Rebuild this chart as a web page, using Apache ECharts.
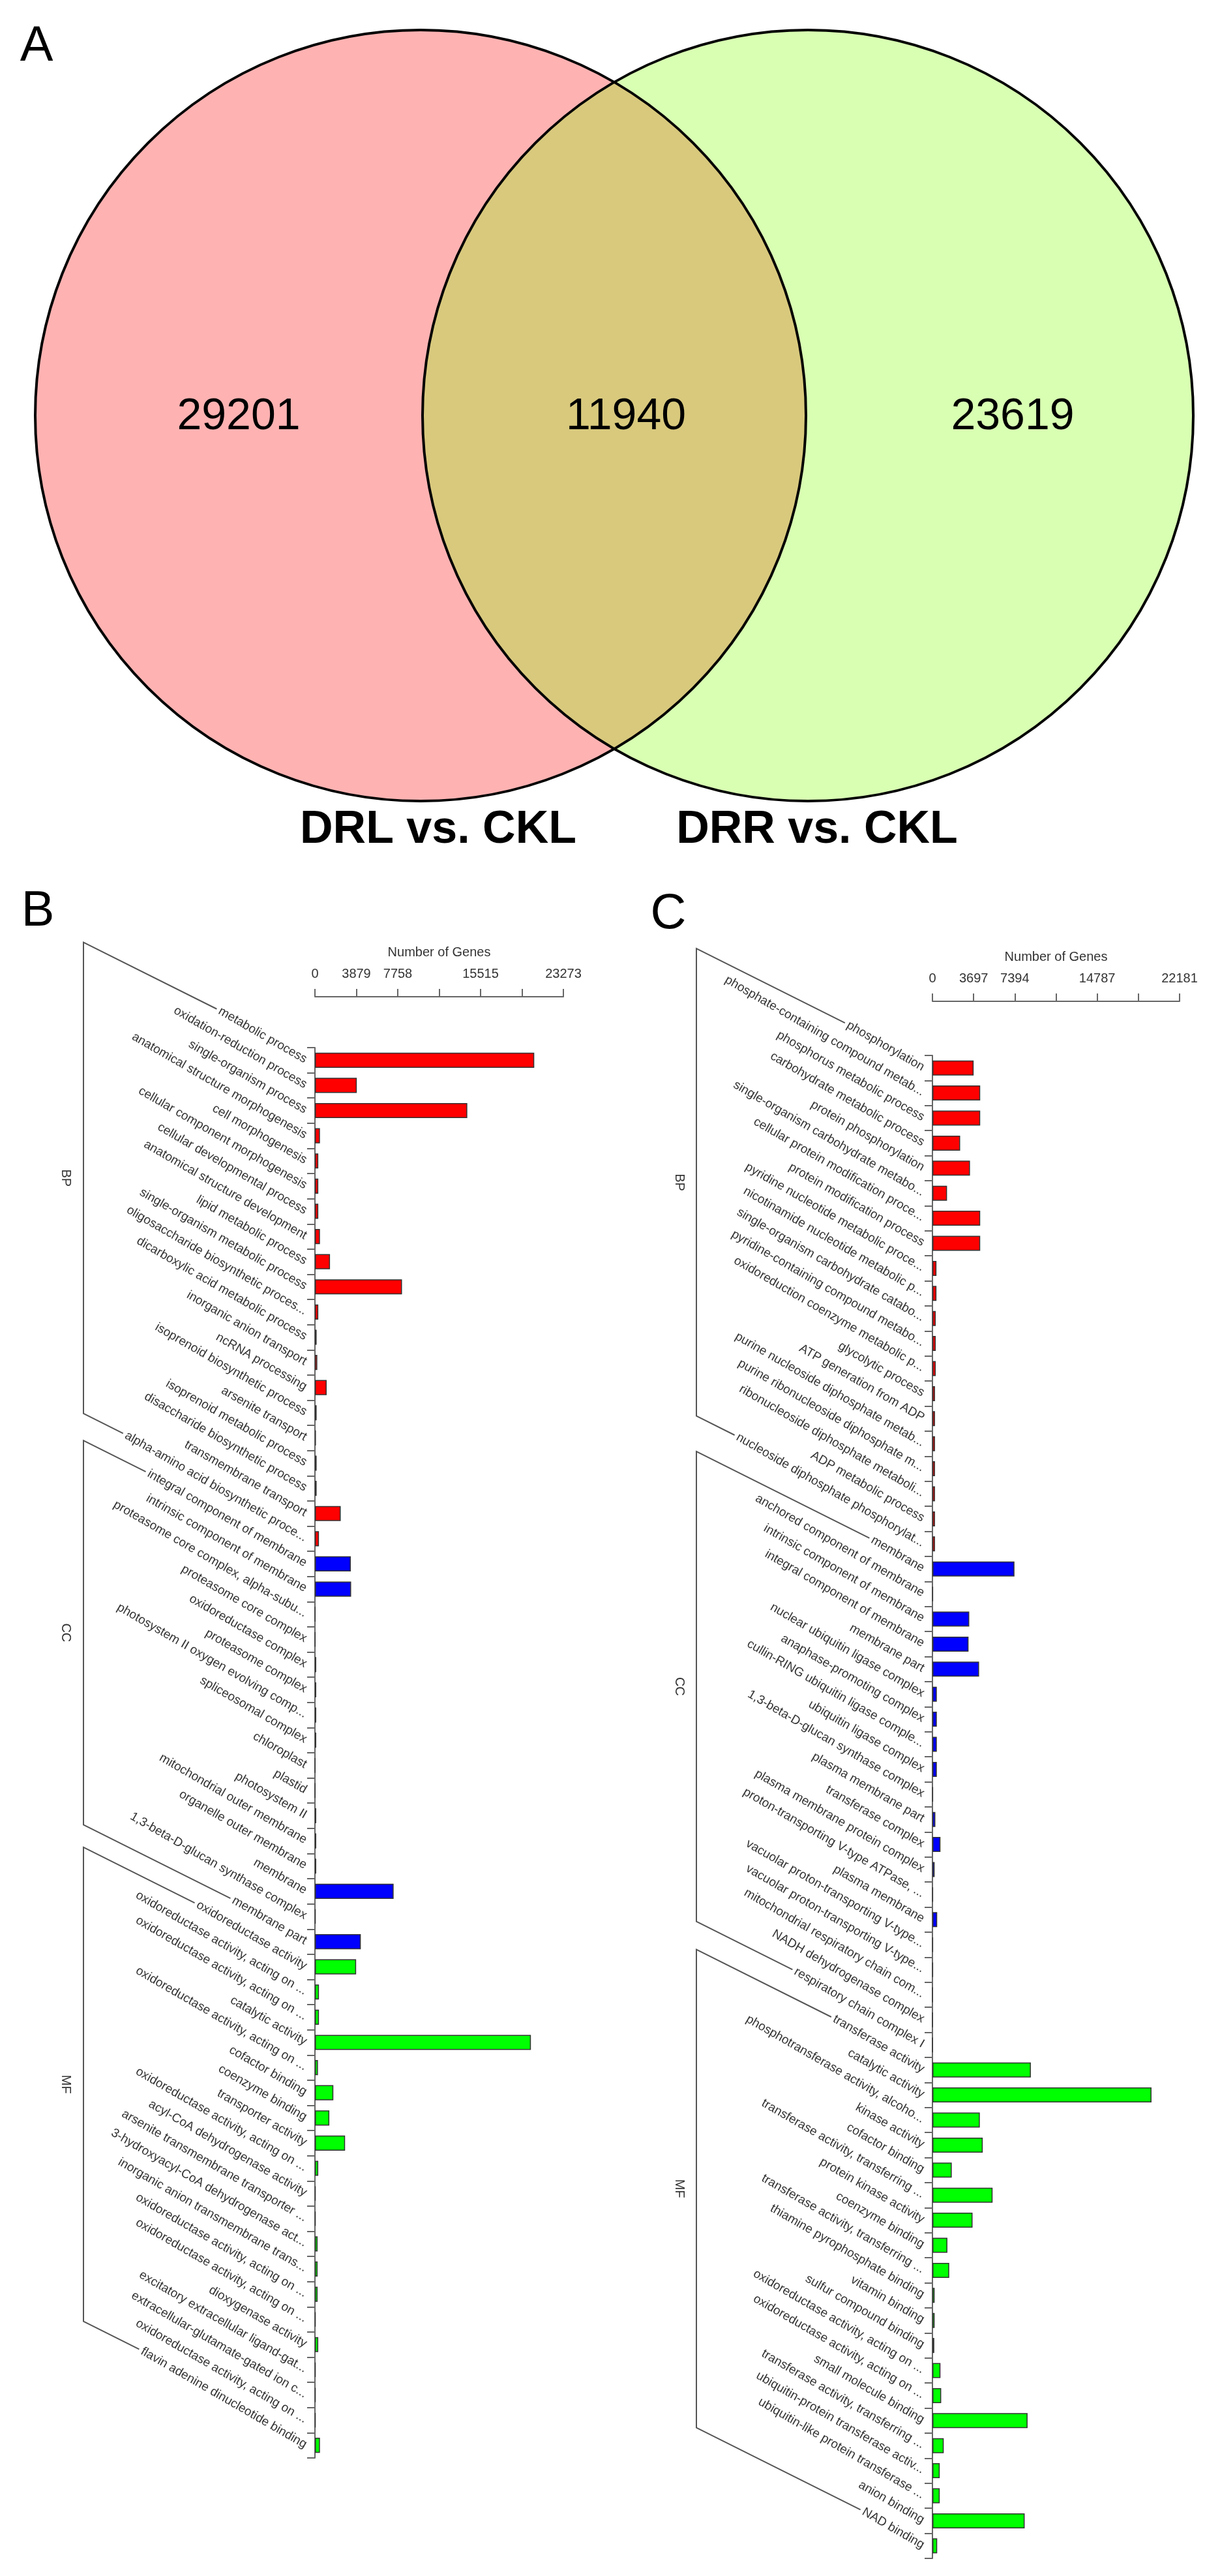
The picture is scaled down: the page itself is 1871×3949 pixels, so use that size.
<!DOCTYPE html>
<html>
<head>
<meta charset="utf-8">
<title>Venn and GO bar charts</title>
<script src="https://cdn.jsdelivr.net/npm/echarts/dist/echarts.min.js"></script>
<style>
html,body{margin:0;padding:0;background:#ffffff;}
#chart{width:1871px;height:3949px;}
</style>
</head>
<body>
<div id="chart"></div>
<script>
// ---------------- DATA ----------------
const vennSets = ['DRL vs. CKL', 'DRR vs. CKL'];
const vennCounts = [29201, 11940, 23619]; // left only, shared, right only

const groupNames = ['BP', 'CC', 'MF'];

const groupSizesB = [20, 16, 20];
const categoriesB = [
  'metabolic process', 'oxidation-reduction process', 'single-organism process',
  'anatomical structure morphogenesis', 'cell morphogenesis', 'cellular component morphogenesis',
  'cellular developmental process', 'anatomical structure development', 'lipid metabolic process',
  'single-organism metabolic process', 'oligosaccharide biosynthetic proces...',
  'dicarboxylic acid metabolic process', 'inorganic anion transport', 'ncRNA processing',
  'isoprenoid biosynthetic process', 'arsenite transport', 'isoprenoid metabolic process',
  'disaccharide biosynthetic process', 'transmembrane transport', 'alpha-amino acid biosynthetic proce...',
  'integral component of membrane', 'intrinsic component of membrane',
  'proteasome core complex, alpha-subu...', 'proteasome core complex', 'oxidoreductase complex',
  'proteasome complex', 'photosystem II oxygen evolving comp...', 'spliceosomal complex',
  'chloroplast', 'plastid', 'photosystem II', 'mitochondrial outer membrane',
  'organelle outer membrane', 'membrane', '1,3-beta-D-glucan synthase complex', 'membrane part',
  'oxidoreductase activity', 'oxidoreductase activity, acting on ...', 'oxidoreductase activity, acting on ...',
  'catalytic activity', 'oxidoreductase activity, acting on ...', 'cofactor binding', 'coenzyme binding',
  'transporter activity', 'oxidoreductase activity, acting on ...', 'acyl-CoA dehydrogenase activity',
  'arsenite transmembrane transporter ...', '3-hydroxyacyl-CoA dehydrogenase act...',
  'inorganic anion transmembrane trans...', 'oxidoreductase activity, acting on ...',
  'oxidoreductase activity, acting on ...', 'dioxygenase activity',
  'excitatory extracellular ligand-gat...', 'extracellular-glutamate-gated ion c...',
  'oxidoreductase activity, acting on ...', 'flavin adenine dinucleotide binding'
];
const valuesB = [
  20544, 3921, 14271, 470, 314, 314, 314, 470, 1411, 8155, 314, 157, 220, 1098, 157, 94, 157, 157, 2415, 376,
  3360, 3390, 30, 30, 120, 120, 120, 120, 20, 20, 120, 120, 120, 7371, 60, 4297,
  3858, 376, 376, 20231, 282, 1725, 1349, 2823, 310, 60, 60, 250, 250, 250, 60, 310, 60, 60, 60, 470
];
const axisMaxB = 23273;
const tickLabelsB = ['0', '3879', '7758', '', '15515', '', '23273'];

const groupSizesC = [20, 20, 20];
const categoriesC = [
  'phosphorylation', 'phosphate-containing compound metab...', 'phosphorus metabolic process',
  'carbohydrate metabolic process', 'protein phosphorylation', 'single-organism carbohydrate metabo...',
  'cellular protein modification proce...', 'protein modification process',
  'pyridine nucleotide metabolic proce...', 'nicotinamide nucleotide metabolic p...',
  'single-organism carbohydrate catabo...', 'pyridine-containing compound metabo...',
  'oxidoreduction coenzyme metabolic p...', 'glycolytic process', 'ATP generation from ADP',
  'purine nucleoside diphosphate metab...', 'purine ribonucleoside diphosphate m...',
  'ribonucleoside diphosphate metaboli...', 'ADP metabolic process', 'nucleoside diphosphate phosphorylat...',
  'membrane', 'anchored component of membrane', 'intrinsic component of membrane',
  'integral component of membrane', 'membrane part', 'nuclear ubiquitin ligase complex',
  'anaphase-promoting complex', 'cullin-RING ubiquitin ligase comple...', 'ubiquitin ligase complex',
  '1,3-beta-D-glucan synthase complex', 'plasma membrane part', 'transferase complex',
  'plasma membrane protein complex', 'proton-transporting V-type ATPase, ...', 'plasma membrane',
  'vacuolar proton-transporting V-type...', 'vacuolar proton-transporting V-type...',
  'mitochondrial respiratory chain com...', 'NADH dehydrogenase complex', 'respiratory chain complex I',
  'transferase activity', 'catalytic activity', 'phosphotransferase activity, alcoho...', 'kinase activity',
  'cofactor binding', 'transferase activity, transferring ...', 'protein kinase activity', 'coenzyme binding',
  'transferase activity, transferring ...', 'thiamine pyrophosphate binding', 'vitamin binding',
  'sulfur compound binding', 'oxidoreductase activity, acting on ...', 'oxidoreductase activity, acting on ...',
  'small molecule binding', 'transferase activity, transferring ...', 'ubiquitin-protein transferase activ...',
  'ubiquitin-like protein transferase ...', 'anion binding', 'NAD binding'
];
const valuesC = [
  3697, 4286, 4286, 2486, 3370, 1309, 4286, 4286, 360, 360, 294, 294, 294, 229, 229, 229, 229, 229, 229, 229,
  7361, 40, 3304, 3239, 4188, 393, 393, 393, 393, 40, 262, 720, 196, 40, 425, 40, 40, 15, 15, 15,
  8833, 19662, 4253, 4515, 1734, 5398, 3599, 1341, 1505, 196, 196, 164, 720, 785, 8539, 1014, 654, 654, 8277, 425
];
const axisMaxC = 22181;
const tickLabelsC = ['0', '3697', '7394', '', '14787', '', '22181'];

// ---------------- LAYOUT / STYLE ----------------
const FONT = 'Liberation Sans';
const LABEL_SIZE = 19;
const LABEL_ROT = 30;          // degrees, clockwise
const BRACKET_SLOPE = 0.5;     // dy/dx of bracket diagonals
const groupColors = ['#FF0000', '#0000FF', '#00FF00'];
const vennColors = {left: '#FFB2B2', right: '#D8FFB2', both: '#D8C97D'};

const L = {
  venn: {w: 1871, h: 1320, c1: [645, 637], c2: [1239, 637], r: 591,
         numX: [366, 960, 1553], numY: 639, setX: [672, 1253], setY: 1273},
  B: {left: 483, top: 1606, width: 381, height: 2162, axisOffset: 78, bracketDX: 355, groupLabelDX: 27, labelMargin: 14},
  C: {left: 1430, top: 1618, width: 379, height: 2304, axisOffset: 83, bracketDX: 362, groupLabelDX: 26, labelMargin: 14},
  letters: [{t: 'A', x: 56, y: 72}, {t: 'B', x: 58, y: 1398}, {t: 'C', x: 1025, y: 1402}]
};

// ---------------- HELPERS ----------------
const mctx = document.createElement('canvas').getContext('2d');
function textWidth(t, font) { mctx.font = font; return mctx.measureText(t).width; }
function groupBounds(sizes) { const out = []; let s = 0; sizes.forEach(n => { out.push([s, s + n - 1]); s += n; }); return out; }
function groupOf(sizes, i) { let s = 0; for (let g = 0; g < sizes.length; g++) { s += sizes[g]; if (i < s) return g; } return sizes.length - 1; }

function barData(values, sizes) {
  return values.map((v, i) => ({value: v, itemStyle: {color: groupColors[groupOf(sizes, i)]}}));
}

function makeBracket(cats, sizes, lay) {
  const bounds = groupBounds(sizes);
  const lf = LABEL_SIZE + 'px "' + FONT + '"';
  return function (params, api) {
    const g = params.dataIndex;
    const s = bounds[g][0], e = bounds[g][1];
    const p0 = api.coord([0, s]), p1 = api.coord([0, e]);
    const axisX = p0[0];
    const bx = axisX - lay.bracketDX;
    const th = LABEL_ROT * Math.PI / 180;
    const startOf = (p, t) => {
      const w = textWidth(t, lf);
      return [axisX - lay.labelMargin - w * Math.cos(th), p[1] - w * Math.sin(th)];
    };
    const gap = 4;
    const a0 = startOf(p0, cats[s]), a1 = startOf(p1, cats[e]);
    const e0 = [a0[0] - gap, a0[1] - gap * BRACKET_SLOPE];
    const e1 = [a1[0] - gap, a1[1] - gap * BRACKET_SLOPE];
    const c0 = [bx, e0[1] - (e0[0] - bx) * BRACKET_SLOPE];
    const c1 = [bx, e1[1] - (e1[0] - bx) * BRACKET_SLOPE];
    return {
      type: 'group',
      children: [
        {type: 'polyline', shape: {points: [e0, c0, c1, e1]}, style: {stroke: '#555', lineWidth: 2, fill: null}},
        {type: 'text', x: bx - lay.groupLabelDX, y: (c0[1] + c1[1]) / 2, rotation: -Math.PI / 2,
         style: {text: groupNames[g], fontSize: 20, fontFamily: FONT, fill: '#333', align: 'center', verticalAlign: 'middle'}}
      ]
    };
  };
}

function vennRender(params, api) {
  const V = L.venn;
  const i = params.dataIndex;
  const p1 = api.coord(V.c1), p2 = api.coord(V.c2);
  const r = api.size([V.r, 0])[0];
  const txt = (x, y, t, size, weight, z2) => {
    const p = api.coord([x, y]);
    return {type: 'text', x: p[0], y: p[1], z2: z2,
      style: {text: t, fontSize: size, fontWeight: weight, fontFamily: FONT, fill: '#000', align: 'center', verticalAlign: 'middle'}};
  };
  const children = [];
  if (i === 0 || i === 2) {
    const c = i === 0 ? p1 : p2;
    const col = i === 0 ? vennColors.left : vennColors.right;
    children.push({type: 'circle', z2: 1, shape: {cx: c[0], cy: c[1], r: r}, style: {fill: col}});
    children.push({type: 'circle', z2: 3, shape: {cx: c[0], cy: c[1], r: r}, style: {fill: null, stroke: '#000', lineWidth: 4}});
    const si = i === 0 ? 0 : 1;
    children.push(txt(V.setX[si], V.setY, vennSets[si], 70, 'bold', 4));
  } else {
    const d = p2[0] - p1[0];
    const h = Math.sqrt(r * r - (d / 2) * (d / 2));
    const mx = (p1[0] + p2[0]) / 2, cy = p1[1];
    const pd = 'M' + mx + ' ' + (cy - h) + ' A' + r + ' ' + r + ' 0 0 1 ' + mx + ' ' + (cy + h) +
               ' A' + r + ' ' + r + ' 0 0 1 ' + mx + ' ' + (cy - h) + ' Z';
    children.push({type: 'path', z2: 2, shape: {pathData: pd}, style: {fill: vennColors.both}});
  }
  children.push(txt(V.numX[i], V.numY, String(api.value(1)), 68, 'normal', 4));
  return {type: 'group', children: children};
}

function valueAxis(gridIndex, max, labels, lay) {
  const interval = max / 6;
  return {
    type: 'value', gridIndex: gridIndex, position: 'top', offset: lay.axisOffset,
    min: 0, max: max, interval: interval,
    name: 'Number of Genes', nameLocation: 'middle', nameGap: 58,
    nameTextStyle: {fontSize: 20, color: '#333', fontFamily: FONT},
    axisLine: {show: true, lineStyle: {color: '#666', width: 2}},
    axisTick: {show: true, length: 12, lineStyle: {color: '#666', width: 2}},
    axisLabel: {margin: 25, fontSize: 20, color: '#333', fontFamily: FONT, hideOverlap: false,
      formatter: v => { const k = Math.round(v / interval); return labels[k] != null ? labels[k] : ''; }},
    splitLine: {show: false}
  };
}
function catAxis(gridIndex, cats) {
  return {
    type: 'category', gridIndex: gridIndex, data: cats, inverse: true,
    axisLine: {show: true, lineStyle: {color: '#666', width: 2}},
    axisTick: {show: true, length: 12, lineStyle: {color: '#666', width: 2}},
    axisLabel: {interval: 0, rotate: -LABEL_ROT, margin: 14, fontSize: LABEL_SIZE, color: '#333',
      fontFamily: FONT, hideOverlap: false},
    splitLine: {show: false}
  };
}

// ---------------- CHART ----------------
const chart = echarts.init(document.getElementById('chart'), null, {renderer: 'canvas'});
const option = {
  animation: false,
  backgroundColor: '#ffffff',
  grid: [
    {left: 0, top: 0, width: L.venn.w, height: L.venn.h, outerBoundsMode: 'none'},
    {left: L.B.left, top: L.B.top, width: L.B.width, height: L.B.height, outerBoundsMode: 'none'},
    {left: L.C.left, top: L.C.top, width: L.C.width, height: L.C.height, outerBoundsMode: 'none'}
  ],
  xAxis: [
    {type: 'value', gridIndex: 0, min: 0, max: L.venn.w, show: false},
    valueAxis(1, axisMaxB, tickLabelsB, L.B),
    valueAxis(2, axisMaxC, tickLabelsC, L.C)
  ],
  yAxis: [
    {type: 'value', gridIndex: 0, min: 0, max: L.venn.h, inverse: true, show: false},
    catAxis(1, categoriesB),
    catAxis(2, categoriesC)
  ],
  graphic: L.letters.map(o => ({
    type: 'text', x: o.x, y: o.y,
    style: {text: o.t, fontSize: 76, fontFamily: FONT, fill: '#000', align: 'center', verticalAlign: 'middle'}
  })),
  series: [
    {type: 'custom', name: 'venn', xAxisIndex: 0, yAxisIndex: 0, silent: true, clip: false,
     data: vennCounts.map((v, i) => [i, v]), encode: {x: 0, y: 1}, renderItem: vennRender},
    {type: 'bar', name: 'B', xAxisIndex: 1, yAxisIndex: 1, barWidth: '60%',
     itemStyle: {borderColor: '#333', borderWidth: 1.5}, data: barData(valuesB, groupSizesB)},
    {type: 'custom', name: 'bracketB', xAxisIndex: 1, yAxisIndex: 1, silent: true, clip: false,
     data: groupNames.map((g, i) => [0, i]), renderItem: makeBracket(categoriesB, groupSizesB, L.B)},
    {type: 'bar', name: 'C', xAxisIndex: 2, yAxisIndex: 2, barWidth: '60%',
     itemStyle: {borderColor: '#333', borderWidth: 1.5}, data: barData(valuesC, groupSizesC)},
    {type: 'custom', name: 'bracketC', xAxisIndex: 2, yAxisIndex: 2, silent: true, clip: false,
     data: groupNames.map((g, i) => [0, i]), renderItem: makeBracket(categoriesC, groupSizesC, L.C)}
  ]
};
chart.setOption(option);
</script>
</body>
</html>
